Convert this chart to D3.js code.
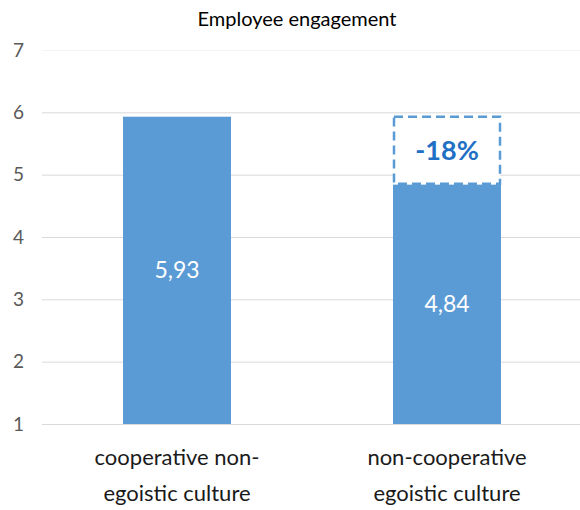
<!DOCTYPE html>
<html>
<head>
<meta charset="utf-8">
<script src="https://cdn.jsdelivr.net/npm/d3@7"></script>
<style>
  body { margin: 0; background: #fff; }
  text { font-family: Lato, "Open Sans", sans-serif; }
</style>
</head>
<body>
<div id="grafico"></div>
<script>
// Dados do gráfico
const categorias = [["cooperative non-", "egoistic culture"], ["non-cooperative", "egoistic culture"]]
const valores = [5.93, 4.84]
const rotulos = ["5,93", "4,84"]
const ticksY = [1, 2, 3, 4, 5, 6, 7]
const diferenca = "-18%"

const width = 580
const height = 510

let svg = d3.select('#grafico').append('svg')
    .attr('width', width)
    .attr('height', height)

// Escalas
let x = d3.scaleBand().domain(d3.range(valores.length)).range([42, 582])
    .paddingInner(0.6).paddingOuter(0.3)
let y = d3.scaleLinear().domain([1, 7]).range([424, 50])

// Linhas de grade
svg.append('g').selectAll('line')
    .data(ticksY)
    .join('line')
    .attr('x1', 42).attr('x2', 580)
    .attr('y1', d => y(d) + 0.5).attr('y2', d => y(d) + 0.5)
    .attr('stroke', d => d === 7 ? '#f4f4f4' : '#d9d9d9')
    .attr('stroke-width', 1)

// Eixo Y (só os rótulos)
let eixoY = svg.append('g')
    .attr('transform', 'translate(24,0)')
    .call(d3.axisLeft(y).tickValues(ticksY).tickFormat(d3.format('d')).tickSize(0).tickPadding(0))
eixoY.select('.domain').remove()
eixoY.selectAll('text')
    .attr('fill', '#595959')
    .style('font-size', '19px')
    .style('font-family', 'Lato, sans-serif')

// Título
svg.append('text')
    .attr('x', 297).attr('y', 26)
    .attr('text-anchor', 'middle')
    .attr('fill', '#000')
    .style('font-size', '20px')
    .text('Employee engagement')

// Barras
svg.append('g').selectAll('rect')
    .data(valores)
    .join('rect')
    .attr('x', (d, i) => x(i))
    .attr('width', x.bandwidth())
    .attr('y', d => y(d))
    .attr('height', d => y(1) - y(d))
    .attr('fill', '#5b9bd5')

// Rótulos dentro das barras
svg.append('g').selectAll('text')
    .data(valores)
    .join('text')
    .attr('x', (d, i) => x(i) + x.bandwidth() / 2)
    .attr('y', d => (y(d) + y(1)) / 2)
    .attr('dy', '0.35em')
    .attr('text-anchor', 'middle')
    .attr('fill', '#fff')
    .style('font-size', '23px')
    .text((d, i) => rotulos[i])

// Caixa tracejada da diferença
svg.append('rect')
    .attr('x', x(1) + 1)
    .attr('width', x.bandwidth() - 2)
    .attr('y', y(valores[0]))
    .attr('height', y(valores[1]) - y(valores[0]) - 1)
    .attr('fill', '#fff')
    .attr('stroke', '#5b9bd5')
    .attr('stroke-width', 2.5)
    .attr('stroke-dasharray', '9,5')

svg.append('text')
    .attr('x', x(1) + x.bandwidth() / 2)
    .attr('y', (y(valores[0]) + y(valores[1])) / 2)
    .attr('dy', '0.35em')
    .attr('text-anchor', 'middle')
    .attr('fill', '#1f6fc5')
    .style('font-size', '27px')
    .style('font-weight', 'bold')
    .text(diferenca)

// Categorias
svg.append('g').selectAll('text')
    .data(categorias)
    .join('text')
    .attr('x', (d, i) => x(i) + x.bandwidth() / 2)
    .attr('y', 465)
    .attr('text-anchor', 'middle')
    .attr('fill', '#1a1a1a')
    .style('font-size', '22px')
    .selectAll('tspan')
    .data(d => d)
    .join('tspan')
    .attr('x', function () { return this.parentNode.getAttribute('x') })
    .attr('dy', (d, i) => i === 0 ? 0 : 36)
    .text(d => d)
</script>
</body>
</html>
